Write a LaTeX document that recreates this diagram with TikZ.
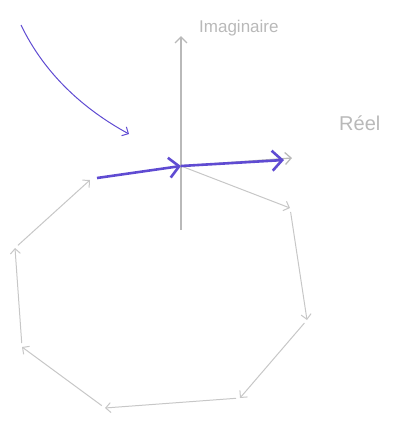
\documentclass[tikz,border=0pt]{standalone}
\usepackage{fontspec}
\setsansfont{Liberation Sans}
\usetikzlibrary{arrows.meta}
\definecolor{penblue}{RGB}{95,75,210}
\definecolor{pencil}{RGB}{185,185,185}
\begin{document}
\begin{tikzpicture}[x=1pt,y=1pt,every node/.style={font=\sffamily\small,inner sep=1pt},
  axis/.style={draw=pencil,line width=1.3pt,-{Straight Barb[length=6pt,width=12pt]}},
  stepvec/.style={draw=pencil!80,line width=1pt,-{Straight Barb[length=5pt,width=10pt]}},
  bluevec/.style={draw=penblue,line width=2.6pt,-{Straight Barb[length=10pt,width=20pt]}}]
\useasboundingbox (0,0) rectangle (392,-421);
% axes
\coordinate (O) at (181,-166);
\coordinate (ybot) at (181,-230);
\coordinate (ytop) at (181,-36);
\coordinate (xend) at (292,-158);
\draw[axis] (ybot) -- (ytop);
\draw[axis] (O) -- (xend);
\node[text=pencil,anchor=west,font=\sffamily\fontsize{17}{19}\selectfont] (im) at (198,-28) {Imaginaire};
\node[text=pencil,anchor=west,font=\sffamily\fontsize{20}{22}\selectfont] (re) at (338,-123) {Réel};
% grey chain of vectors
\foreach \n/\p in {1/{290,-208},2/{307,-320},3/{240,-398},4/{105,-408},5/{22,-347},6/{15,-248},7/{90,-180}}{
  \coordinate (p\n) at (\p);
}
\draw[stepvec] (O) -- (p1);
\foreach \a/\b in {1/2,2/3,3/4,4/5,5/6,6/7}{
  \draw[stepvec,shorten <=4pt] (p\a) -- (p\b);
}
% blue vectors
\coordinate (bstart) at (97,-178);
\coordinate (bend) at (284,-160);
\draw[bluevec] (bstart) -- (O);
\draw[bluevec] (O) -- (bend);
\coordinate (cstart) at (21,-25);
\coordinate (cend) at (129,-134);
\draw[penblue,line width=1pt,-{Straight Barb[length=5pt,width=10pt]}] (cstart) .. controls (45,-75) and (85,-110) .. (cend);
\end{tikzpicture}
\end{document}
